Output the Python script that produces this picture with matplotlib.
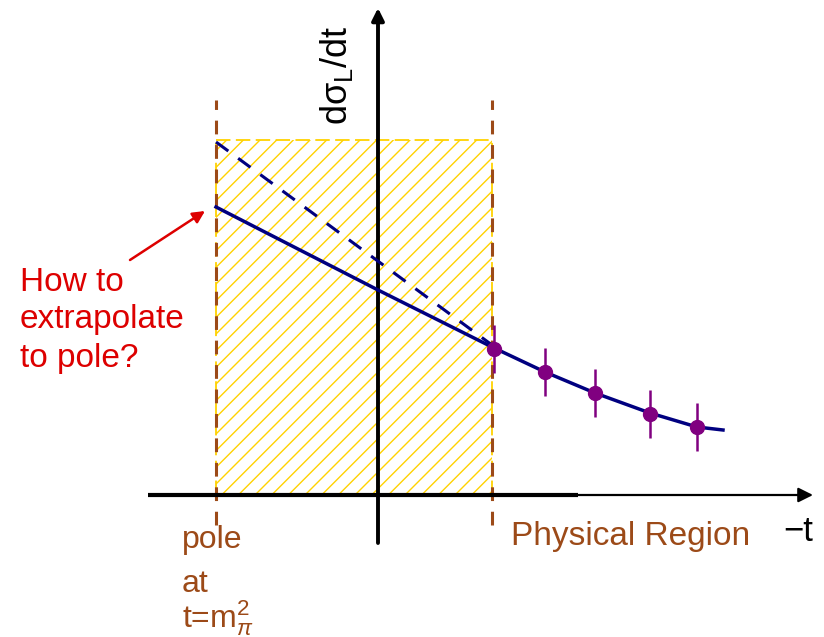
import matplotlib.pyplot as plt
from matplotlib.patches import Rectangle

plt.rcParams['font.family'] = ['Liberation Sans', 'DejaVu Sans']
plt.rcParams['mathtext.fontset'] = 'custom'
plt.rcParams['mathtext.rm'] = 'Liberation Sans'
plt.rcParams['mathtext.it'] = 'Liberation Sans:italic'
plt.rcParams['hatch.linewidth'] = 1.0

# positions along -t (axis crossing at 0)
pole_x = -1.62
phys_x = 1.14
box_top = 3.55

# straight extrapolation (dashed)
dash_x = [-1.62, 1.14]
dash_y = [3.53, 1.50]

# fitted curve (solid)
fit_x = [-1.62, 0.0, 1.14, 1.67, 2.17, 2.72, 3.19, 3.45]
fit_y = [2.88, 2.05, 1.48, 1.23, 1.02, 0.82, 0.68, 0.65]

# measured points in the physical region
pts_x = [1.16, 1.67, 2.17, 2.72, 3.19]
pts_y = [1.46, 1.23, 1.02, 0.81, 0.68]
pts_err = [0.24, 0.24, 0.24, 0.24, 0.24]

brown = '#9c4a18'
yellow = '#ffd200'
navy = '#000080'
purple = '#800080'
red = '#dd0000'

fig = plt.figure(figsize=(8.24, 6.37), dpi=100)
ax = fig.add_axes([0, 0, 1, 1])
ax.set_xlim(-3.78, 4.46)
ax.set_ylim(-1.42, 4.95)
ax.axis('off')

# hatched unphysical region
ax.add_patch(Rectangle((pole_x, 0), phys_x - pole_x, box_top, facecolor='none',
                       edgecolor=yellow, hatch='//', lw=0, zorder=1))
ax.plot([pole_x, phys_x], [box_top, box_top], color=yellow, lw=1.3, ls=(0, (8, 3)), zorder=1)
ax.plot([pole_x, pole_x], [0, box_top], color=yellow, lw=1.3, ls=(0, (8, 3)), zorder=1)
ax.plot([phys_x, phys_x], [0, box_top], color=yellow, lw=1.3, ls=(0, (8, 3)), zorder=1)

# pole and physical threshold
for xv in [pole_x, phys_x]:
    ax.plot([xv, xv], [-0.30, 3.95], color=brown, lw=2.2, ls=(0, (4.5, 3.5)), zorder=2)

# axes
ax.plot([-2.30, 2.00], [0, 0], color='black', lw=3, zorder=3, solid_capstyle='butt')
ax.annotate('', xy=(4.35, 0), xytext=(1.95, 0),
            arrowprops=dict(arrowstyle='-|>', color='black', lw=1.6,
                            mutation_scale=22, shrinkA=0, shrinkB=0), zorder=3)
ax.annotate('', xy=(0, 4.87), xytext=(0, -0.48),
            arrowprops=dict(arrowstyle='-|>', color='black', lw=2.8,
                            mutation_scale=18, shrinkA=0, shrinkB=0), zorder=3)

# curves and data
ax.plot(dash_x, dash_y, color=navy, lw=2.2, ls=(0, (5, 4)), zorder=4)
ax.plot(fit_x, fit_y, color=navy, lw=2.5, zorder=4)
ax.errorbar(pts_x, pts_y, yerr=pts_err, fmt='o', color=purple, ms=10, elinewidth=1.8,
            capsize=0, zorder=5)

# labels
ax.text(-0.41, 4.20, 'dσ$_{\\mathregular{L}}$/dt', rotation=90, fontsize=26,
        ha='center', va='center', color='black')
ax.text(4.05, -0.46, '−t', fontsize=25, color='black', va='baseline')
ax.text(1.33, -0.50, 'Physical Region', fontsize=24, color=brown, va='baseline')
ax.text(-1.96, -0.53, 'pole', fontsize=23, color=brown, va='baseline')
ax.text(-1.96, -0.97, 'at', fontsize=23, color=brown, va='baseline')
ax.text(-1.96, -1.33, 't=m$^{\\mathregular{2}}_{\\pi}$', fontsize=23, color=brown, va='baseline')

ax.text(-3.58, 2.04, 'How to', fontsize=24, color=red, va='baseline')
ax.text(-3.58, 1.67, 'extrapolate', fontsize=24, color=red, va='baseline')
ax.text(-3.58, 1.28, 'to pole?', fontsize=24, color=red, va='baseline')
ax.annotate('', xy=(-1.73, 2.84), xytext=(-2.48, 2.35),
            arrowprops=dict(arrowstyle='-|>', color=red, lw=1.8,
                            mutation_scale=18, shrinkA=0, shrinkB=0))

fig.savefig('out.png', dpi=100)
